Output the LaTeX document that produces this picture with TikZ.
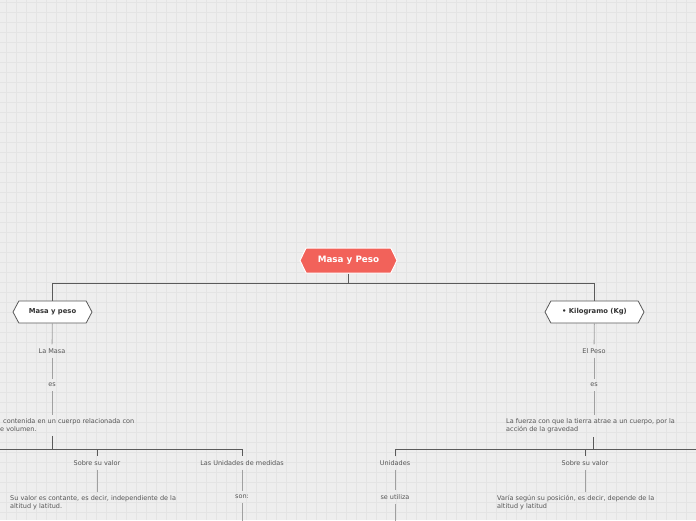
\documentclass[tikz,border=0pt]{standalone}
\usepackage{fontspec}
\setmainfont{DejaVu Sans}
\usetikzlibrary{shapes.symbols}

\definecolor{paper}{HTML}{EEEEEE}
\definecolor{gridline}{HTML}{E4E4E4}
\definecolor{topred}{HTML}{F2625A}
\definecolor{trunkgray}{HTML}{5A5A5A}
\definecolor{subgray}{HTML}{A0A0A0}
\definecolor{labelgray}{HTML}{555555}

\tikzset{
  hexbox/.style={signal, signal to=west and east, signal pointer angle=124,
    inner sep=0pt, font=\bfseries\fontsize{6.8}{8}\selectfont},
  word/.style={text=labelgray, inner xsep=2pt, inner ysep=4pt,
    font=\fontsize{6.5}{8}\selectfont},
  para/.style={word, anchor=north west, align=left, inner xsep=0pt},
  trunk/.style={draw=trunkgray, line width=1pt},
  sub/.style={draw=subgray, line width=0.8pt}
}

\begin{document}
\begin{tikzpicture}[x=1pt,y=-1pt]
\useasboundingbox (0,0) rectangle (696,520);
% background grid
\fill[paper] (0,0) rectangle (696,520);
\foreach \gx in {6,16,...,696} \draw[gridline,line width=0.6pt] (\gx,0) -- (\gx,520);
\foreach \gy in {2,12,...,520} \draw[gridline,line width=0.6pt] (0,\gy) -- (696,\gy);

% top and second level
\node[hexbox, fill=topred, draw=white, line width=1pt, text=white,
  font=\bfseries\fontsize{8.8}{10}\selectfont,
  minimum width=97pt, minimum height=25pt, signal pointer angle=128] (main) at (348.5,260.5) {Masa y Peso};
\node[hexbox, fill=white, draw=trunkgray, line width=0.8pt, text=black!80,
  minimum width=79pt, minimum height=22pt] (masapeso) at (52.5,312) {Masa y peso};
\node[hexbox, fill=white, draw=trunkgray, line width=0.8pt, text=black!80,
  minimum width=99pt, minimum height=22pt] (kilo) at (594.5,312) {• Kilogramo (Kg)};

\draw[trunk] (main.south) -- ++(0,10) -| (masapeso.north);
\draw[trunk] (main.south) ++(0,10) -| (kilo.north);

% left side
\node[word] (lamasa) at (52,351) {La Masa};
\node[word] (es1) at (52,385) {es};
\node[para] (def1) at (0,414.5) {\hspace{3pt}contenida en un cuerpo relacionada con\\e volumen.};
\node[word] (sobre1) at (97,463) {Sobre su valor};
\node[word] (unid1) at (242,463) {Las Unidades de medidas};
\node[para] (val1) at (10,491.5) {Su valor es contante, es decir, independiente de la\\altitud y latitud.};
\node[word] (son) at (242,497) {son:};
\coordinate (b1) at (52,449);
\coordinate (lend) at (-5,449);
\coordinate (sonend) at (242,525);

\draw[sub] (masapeso) -- (lamasa);
\draw[sub] (lamasa) -- (es1);
\draw[sub] (es1) -- (es1 |- def1.north);
\draw[trunk] (def1.south -| b1) -- (b1);
\draw[trunk] (lend) -| (sobre1.north);
\draw[trunk] (b1) -| (unid1.north);
\draw[sub] (sobre1) -- (sobre1 |- val1.north);
\draw[sub] (unid1) -- (son);
\draw[sub] (son) -- (sonend);

% right side
\node[word] (elpeso) at (594,351) {El Peso};
\node[word] (es2) at (594,385) {es};
\node[para] (def2) at (506,414.5) {La fuerza con que la tierra atrae a un cuerpo, por la\\acción de la gravedad};
\node[word] (unid2) at (395,463) {Unidades};
\node[word] (sobre2) at (585,463) {Sobre su valor};
\node[word] (seutil) at (395,497) {se utiliza};
\node[para] (val2) at (497,491.5) {Varía según su posición, es decir, depende de la\\altitud y latitud};
\coordinate (b2) at (593,449);
\coordinate (rend) at (701,449);
\coordinate (utilend) at (395,525);

\draw[sub] (kilo) -- (elpeso);
\draw[sub] (elpeso) -- (es2);
\draw[sub] (es2) -- (es2 |- def2.north);
\draw[trunk] (def2.south -| b2) -- (b2);
\draw[trunk] (unid2.north) |- (rend);
\draw[trunk] (b2) -| (sobre2.north);
\draw[sub] (unid2) -- (seutil);
\draw[sub] (seutil) -- (utilend);
\draw[sub] (sobre2) -- (sobre2 |- val2.north);
\end{tikzpicture}
\end{document}
